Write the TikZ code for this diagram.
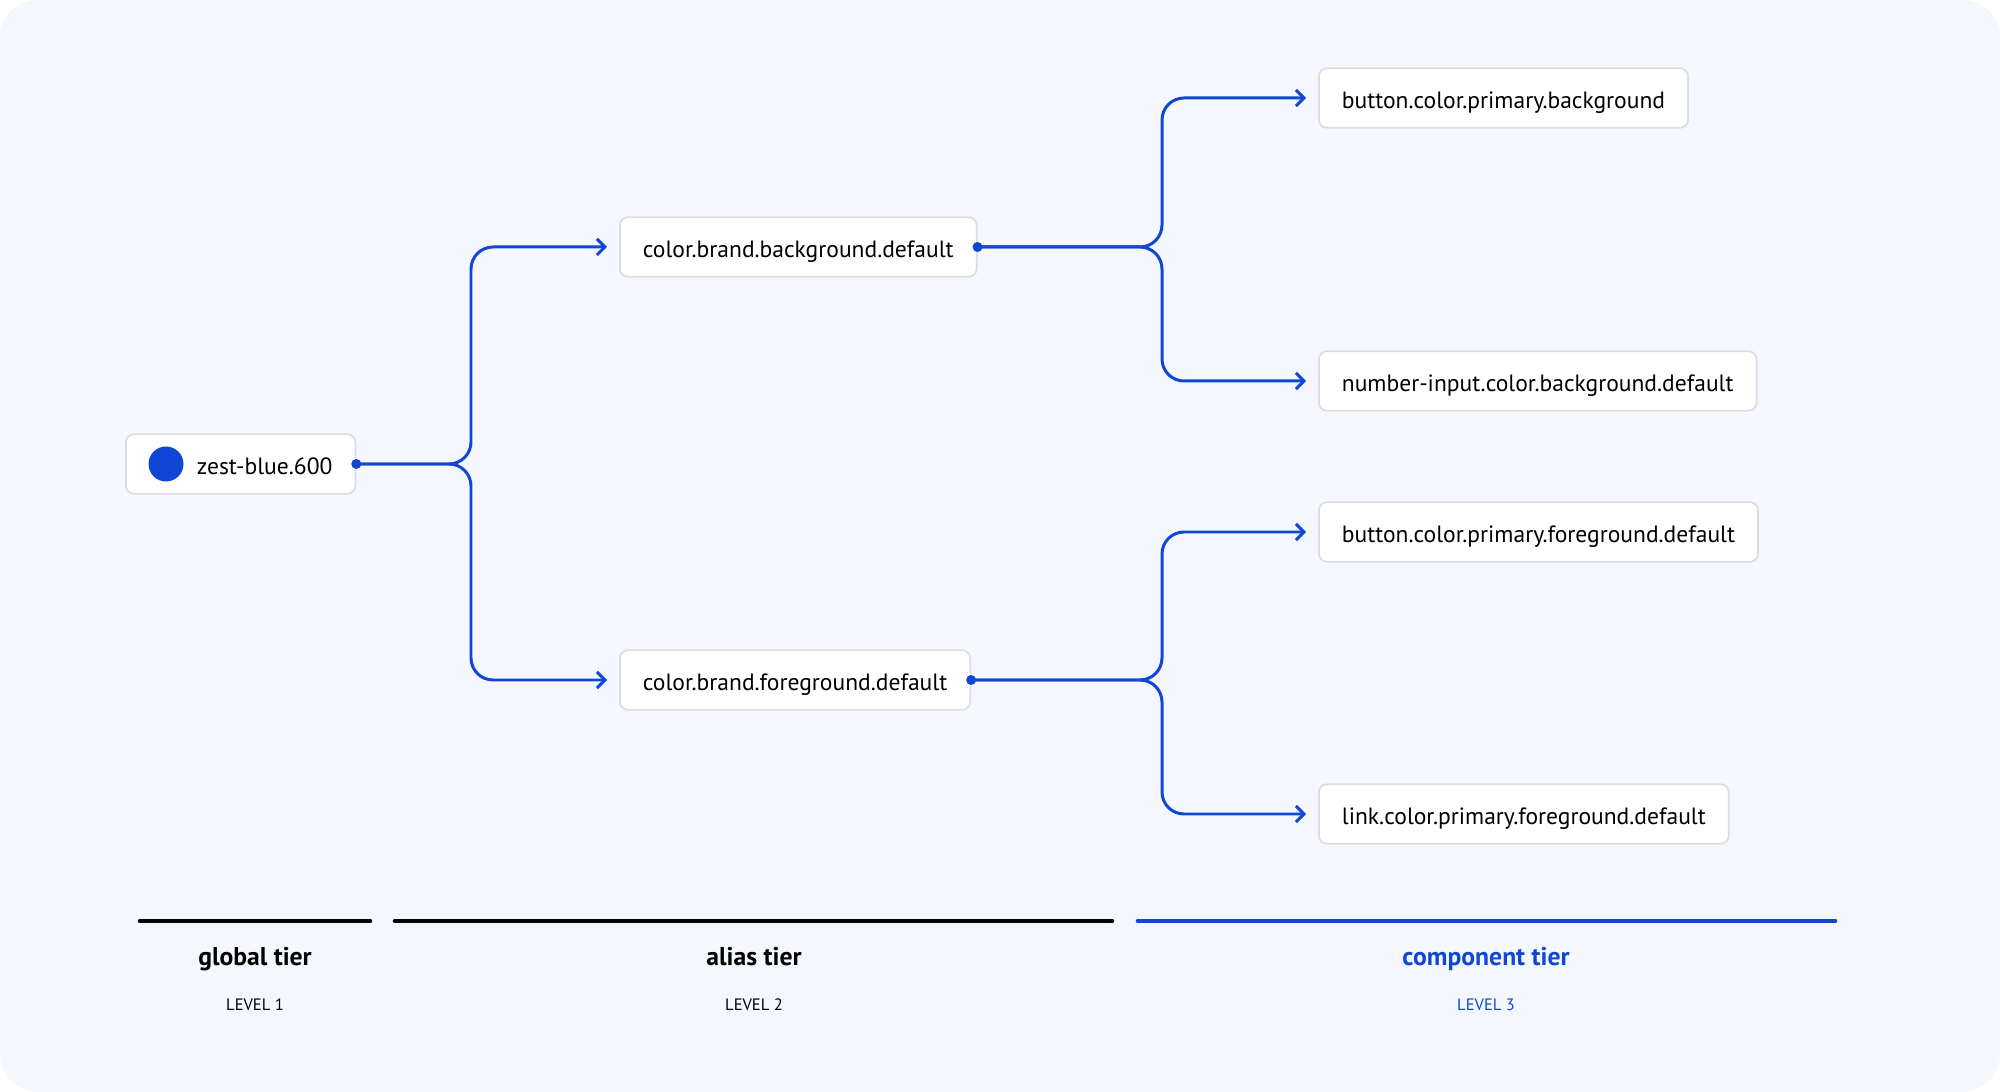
\documentclass[tikz,border=0pt]{standalone}
\usepackage{fontspec}
\setmainfont{PT Sans}
\usetikzlibrary{arrows.meta,positioning}
\definecolor{zest}{HTML}{0F47D4}
\definecolor{paper}{HTML}{F4F7FE}
\definecolor{edge}{HTML}{DCDDE0}

\begin{document}
\begin{tikzpicture}
\tikzstyle{tok} = [draw=edge, fill=white, rounded corners=0.08cm, line width=0.5pt, minimum height=0.58cm, inner xsep=0.23cm, text height=1.6ex, text depth=0.45ex, anchor=west, font=\fontsize{6.7}{8}\selectfont]
\tikzstyle{link} = [draw=zest, line width=0.85pt, rounded corners=0.22cm]
\tikzstyle{ref} = [link, -{Straight Barb[length=0.08cm, width=0.16cm]}, shorten >=0.12cm]
\tikzstyle{dot} = [fill=zest, circle, inner sep=0pt, minimum size=0.1cm]
\tikzstyle{bar} = [line width=1.3pt, line cap=round]
\tikzstyle{tier} = [anchor=base, font=\bfseries\fontsize{7.3}{8}\selectfont]
\tikzstyle{level} = [anchor=base, font=\fontsize{4.7}{5}\selectfont]

\fill[white] (0,0) rectangle (20,-10.92);
\fill[paper, rounded corners=0.38cm] (0,0) rectangle (20,-10.92);

\node[tok] (zest) at (1.25,-4.64) {\hspace*{0.48cm}zest-blue.600};
\node[fill=zest, circle, inner sep=0pt, minimum size=0.35cm] (swatch) at ([xshift=0.41cm]zest.west) {};

\node[tok] (abg) at (6.19,-2.47) {color.brand.background.default};
\node[tok] (afg) at (6.19,-6.80) {color.brand.foreground.default};

\node[tok] (cbtnbg) at (13.18,-0.98) {button.color.primary.background};
\node[tok] (cnumbg) at (13.18,-3.81) {number-input.color.background.default};
\node[tok] (cbtnfg) at (13.18,-5.32) {button.color.primary.foreground.default};
\node[tok] (clinkfg) at (13.18,-8.14) {link.color.primary.foreground.default};

\coordinate (j1) at (4.71,-4.64);
\coordinate (j2) at (11.62,-2.47);
\coordinate (j3) at (11.62,-6.80);

\draw[ref] (zest.east) -- (j1) |- (abg.west);
\draw[ref] (zest.east) -- (j1) |- (afg.west);
\draw[ref] (abg.east) -- (j2) |- (cbtnbg.west);
\draw[ref] (abg.east) -- (j2) |- (cnumbg.west);
\draw[ref] (afg.east) -- (j3) |- (cbtnfg.west);
\draw[ref] (afg.east) -- (j3) |- (clinkfg.west);

\node[dot] (d1) at (zest.east) {};
\node[dot] (d2) at (abg.east) {};
\node[dot] (d3) at (afg.east) {};

\draw[bar] (1.40,-9.21) -- (3.70,-9.21);
\draw[bar] (3.95,-9.21) -- (11.12,-9.21);
\draw[bar, zest] (11.38,-9.21) -- (18.35,-9.21);

\node[tier] (global) at (2.55,-9.66) {global tier};
\node[level] (l1) at (2.55,-10.10) {LEVEL 1};
\node[tier] (alias) at (7.54,-9.66) {alias tier};
\node[level] (l2) at (7.54,-10.10) {LEVEL 2};
\node[tier, zest] (comp) at (14.86,-9.66) {component tier};
\node[level, zest] (l3) at (14.86,-10.10) {LEVEL 3};

\end{tikzpicture}
\end{document}
